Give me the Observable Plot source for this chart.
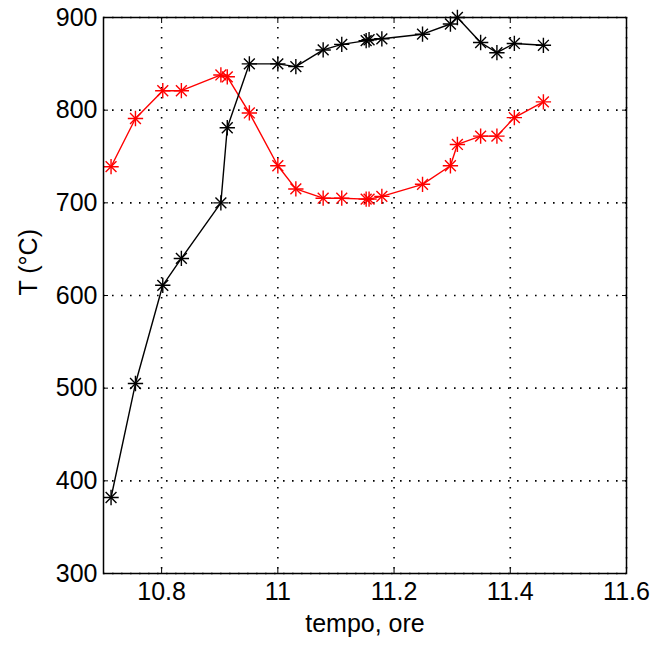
<!DOCTYPE html>
<html>
<head>
<meta charset="utf-8">
<script src="https://cdn.jsdelivr.net/npm/d3@7"></script>
<script src="https://cdn.jsdelivr.net/npm/@observablehq/plot@0.6"></script>
<style>
  html, body { margin: 0; padding: 0; background: #ffffff; }
  #chart { width: 662px; height: 645px; }
</style>
</head>
<body>
<div id="chart"></div>
<script>
// Time (hours)
const times = [10.713, 10.755, 10.802, 10.834, 10.902, 10.913, 10.951, 11.0, 11.031, 11.078, 11.110,
               11.152, 11.157, 11.179, 11.249, 11.297, 11.309, 11.349, 11.377, 11.407, 11.457];
// Temperature series (°C)
const tempRed   = [739, 791, 821, 821, 838, 836, 797, 740, 715, 705, 705,
                   704, 704, 707, 720, 740, 763, 772, 772, 792, 809];
const tempBlack = [382, 505, 611, 640, 700, 781, 850, 850, 847, 865, 871,
                   875, 876, 877, 882, 893, 900, 873, 862, 872, 870];
// Axes
const xTicks = [10.8, 11, 11.2, 11.4, 11.6];
const yTicks = [300, 400, 500, 600, 700, 800, 900];
const xDomain = [10.7, 11.6];
const yDomain = [300, 900];
const xTitle = "tempo, ore";
const yTitle = "T (°C)";

const redRows = times.map((t, i) => ({t, v: tempRed[i]}));
const blackRows = times.map((t, i) => ({t, v: tempBlack[i]}));

const fmt = d => String(d);
const font = "'Liberation Sans', Arial, sans-serif";

function series(rows, color) {
  return [
    Plot.line(rows, {x: "t", y: "v", stroke: color, strokeWidth: 1.4}),
    Plot.dot(rows, {x: "t", y: "v", symbol: "plus", r: 5, stroke: color, strokeWidth: 1.4}),
    Plot.dot(rows, {x: "t", y: "v", symbol: "times", r: 5, stroke: color, strokeWidth: 1.4})
  ];
}

const chart = Plot.plot({
  width: 662,
  height: 645,
  marginTop: 17,
  marginBottom: 72,
  marginLeft: 103,
  marginRight: 36,
  style: {fontFamily: font, fontSize: "25px", background: "#ffffff", color: "#000000"},
  x: {domain: xDomain},
  y: {domain: yDomain},
  marks: [
    Plot.gridX(xTicks, {stroke: "#000", strokeOpacity: 1, strokeWidth: 1.6, strokeDasharray: "1.6,8.4"}),
    Plot.gridY(yTicks, {stroke: "#000", strokeOpacity: 1, strokeWidth: 1.6, strokeDasharray: "1.6,7.4"}),
    ...series(redRows, "#ff0000"),
    ...series(blackRows, "#000000"),
    Plot.frame({stroke: "#000", strokeWidth: 1.5}),
    // inward ticks on all four sides
    Plot.axisX(xTicks, {anchor: "bottom", tickSize: -5, text: null, label: null}),
    Plot.axisX(xTicks, {anchor: "top", tickSize: -5, text: null, label: null}),
    Plot.axisY(yTicks, {anchor: "left", tickSize: -5, text: null, label: null}),
    Plot.axisY(yTicks, {anchor: "right", tickSize: -5, text: null, label: null}),
    // tick labels
    Plot.axisX(xTicks, {anchor: "bottom", tickSize: 0, tickPadding: 9, tickFormat: fmt, label: null, fontSize: 25, fill: "#000"}),
    Plot.axisY(yTicks, {anchor: "left", tickSize: 0, tickPadding: 6, tickFormat: fmt, label: null, fontSize: 25, fill: "#000"}),
    // axis titles
    Plot.text([xTitle], {frameAnchor: "bottom", dy: 58, fontSize: 25, fill: "#000"}),
    Plot.text([yTitle], {frameAnchor: "left", dx: -75, rotate: -90, fontSize: 25, fill: "#000"})
  ]
});
document.getElementById("chart").appendChild(chart);
</script>
</body>
</html>
